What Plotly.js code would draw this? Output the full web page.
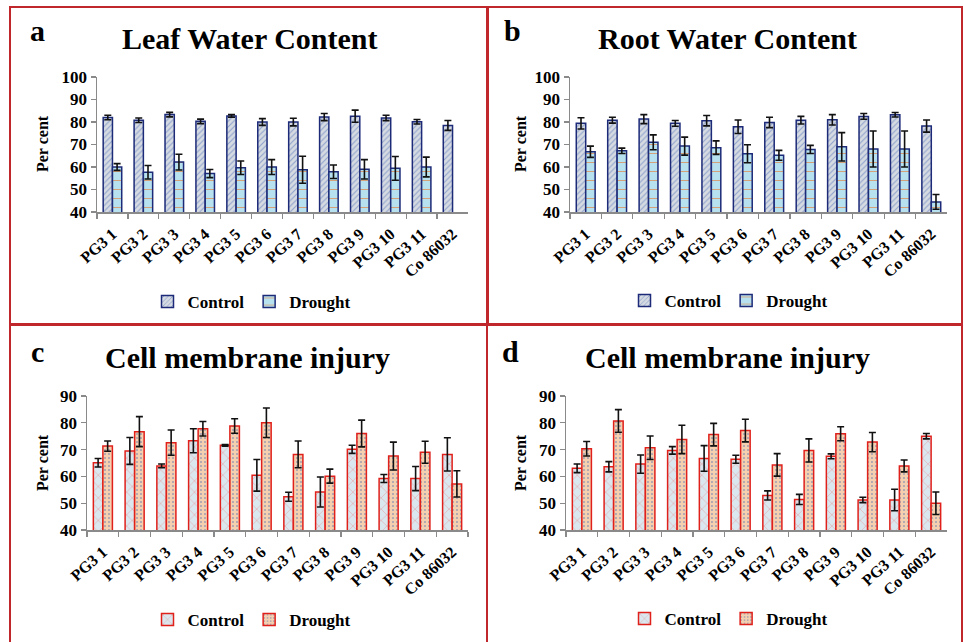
<!DOCTYPE html>
<html>
<head>
<meta charset="utf-8">
<script src="https://cdn.plot.ly/plotly-3.0.1.min.js"></script>
<style>
html,body{margin:0;padding:0;background:#fff;}
#chart{width:964px;height:642px;}
</style>
</head>
<body>
<div id="chart"></div>
<script>
const categories = ["PG3 1","PG3 2","PG3 3","PG3 4","PG3 5","PG3 6","PG3 7","PG3 8","PG3 9","PG3 10","PG3 11","Co 86032"];

// Panel a: Leaf Water Content
const leafControl    = [82.0, 80.8, 83.3, 80.3, 82.7, 80.0, 80.0, 82.2, 82.6, 81.8, 80.1, 78.5];
const leafControlErr = [1.0, 1.0, 1.0, 1.0, 0.6, 1.5, 1.7, 1.6, 2.7, 1.2, 1.0, 2.2];
const leafDrought    = [60.0, 57.7, 62.2, 57.1, 59.7, 60.0, 58.8, 57.9, 59.0, 59.4, 60.0, null];
const leafDroughtErr = [1.5, 3.0, 3.5, 1.8, 3.0, 3.3, 6.0, 3.0, 4.3, 5.3, 4.4, null];

// Panel b: Root Water Content
const rootControl    = [79.4, 80.8, 81.3, 79.4, 80.6, 77.9, 79.8, 80.8, 81.0, 82.5, 83.2, 78.2];
const rootControlErr = [2.5, 1.3, 2.0, 1.3, 2.3, 3.0, 2.3, 1.7, 2.3, 1.3, 1.0, 2.7];
const rootDrought    = [66.8, 67.2, 71.0, 69.3, 68.6, 65.9, 65.2, 67.8, 69.0, 68.0, 68.0, 44.5];
const rootDroughtErr = [2.5, 1.2, 3.3, 4.0, 3.0, 4.0, 2.2, 1.8, 6.3, 8.0, 8.0, 3.3];

// Panel c: Cell membrane injury
const cmiCControl    = [65.1, 69.5, 63.9, 73.3, 71.6, 60.4, 52.4, 54.2, 70.1, 59.2, 59.2, 68.2];
const cmiCControlErr = [1.6, 5.0, 0.7, 4.5, 0.3, 5.9, 1.7, 5.6, 1.5, 1.5, 4.5, 6.2];
const cmiCDrought    = [71.3, 76.7, 72.6, 77.8, 78.8, 80.0, 68.2, 60.1, 76.0, 67.6, 69.0, 57.2];
const cmiCDroughtErr = [1.9, 5.6, 4.7, 2.7, 2.7, 5.5, 5.0, 2.6, 5.0, 5.2, 4.1, 4.9];

// Panel d: Cell membrane injury
const cmiDControl    = [63.0, 63.6, 64.6, 69.7, 66.7, 66.4, 52.9, 51.4, 67.5, 51.2, 51.2, 75.0];
const cmiDControlErr = [1.6, 1.9, 3.4, 1.4, 4.8, 1.5, 1.7, 1.9, 0.9, 1.0, 4.0, 1.0];
const cmiDDrought    = [70.3, 80.7, 70.7, 73.8, 75.6, 77.1, 64.3, 69.7, 75.9, 72.8, 63.9, 50.0];
const cmiDDroughtErr = [2.7, 4.2, 4.4, 5.3, 4.2, 4.2, 4.2, 4.3, 2.6, 3.6, 2.2, 4.2];

const seriesNames = ["Control", "Drought"];
const panelTitles = ["Leaf Water Content", "Root Water Content", "Cell membrane injury", "Cell membrane injury"];
const panelLetters = ["a", "b", "c", "d"];
const yTitle = "Per cent";

const W = 964, H = 642;
const px = x => x / W;
const py = y => 1 - y / H;
const SERIF = "'Liberation Serif'";

const navy = "#1c2a78", red = "#e0201b";
const styleBlueCtrl = {color: "#d6dbe2", line: {color: navy, width: 1.5},
  pattern: {shape: "/", bgcolor: "#d6dbe2", fgcolor: "#8da0cc", size: 4, solidity: 0.25}};
const styleBlueDrt = {color: "#b7e1ef", line: {color: navy, width: 1.5},
  pattern: {shape: "-", bgcolor: "#b7e1ef", fgcolor: "#d79a6c", size: 9, solidity: 0.1}};
const styleRedCtrl = {color: "#dbe7ef", line: {color: red, width: 1.5},
  pattern: {shape: "x", bgcolor: "#dbe7ef", fgcolor: "#e48a8a", size: 8, solidity: 0.1}};
const styleRedDrt = {color: "#f5d0b0", line: {color: red, width: 1.5},
  pattern: {shape: ".", bgcolor: "#f5d0b0", fgcolor: "#5a74b0", size: 4, solidity: 0.12}};

function errObj(arr) {
  return {type: "data", array: arr, visible: true, color: "#111", thickness: 1.6, width: 3.5};
}

const panels = [
  {c: leafControl, ce: leafControlErr, d: leafDrought, de: leafDroughtErr, sc: styleBlueCtrl, sd: styleBlueDrt},
  {c: rootControl, ce: rootControlErr, d: rootDrought, de: rootDroughtErr, sc: styleBlueCtrl, sd: styleBlueDrt},
  {c: cmiCControl, ce: cmiCControlErr, d: cmiCDrought, de: cmiCDroughtErr, sc: styleRedCtrl, sd: styleRedDrt},
  {c: cmiDControl, ce: cmiDControlErr, d: cmiDDrought, de: cmiDDroughtErr, sc: styleRedCtrl, sd: styleRedDrt}
];

const data = [];
panels.forEach((p, i) => {
  const xa = i === 0 ? "x" : "x" + (i + 1);
  const ya = i === 0 ? "y" : "y" + (i + 1);
  const lg = i === 0 ? "legend" : "legend" + (i + 1);
  data.push({type: "bar", name: seriesNames[0], x: categories, y: p.c, error_y: errObj(p.ce),
    xaxis: xa, yaxis: ya, legend: lg, marker: p.sc, offsetgroup: "c" + i});
  data.push({type: "bar", name: seriesNames[1], x: categories, y: p.d, error_y: errObj(p.de),
    xaxis: xa, yaxis: ya, legend: lg, marker: p.sd, offsetgroup: "d" + i});
});

// Pixel layout of each panel
const geom = [
  {x0: 97, x1: 468, yTop: 77, yBot: 212, range: [40, 100], titleX: 250, titleY: 38, letX: 37, letY: 30, ytX: 42, ytY: 144, legX: 252, legY: 302},
  {x0: 570, x1: 947, yTop: 77, yBot: 212, range: [40, 100], titleX: 727, titleY: 38, letX: 512, letY: 30, ytX: 520, ytY: 144, legX: 729, legY: 301},
  {x0: 87, x1: 468, yTop: 396, yBot: 530, range: [40, 90], titleX: 248, titleY: 358, letX: 37, letY: 352, ytX: 42, ytY: 463, legX: 252, legY: 620},
  {x0: 566, x1: 947, yTop: 396, yBot: 530, range: [40, 90], titleX: 727, titleY: 358, letX: 510, letY: 352, ytX: 520, ytY: 463, legX: 729, legY: 619}
];

const layout = {
  width: W, height: H,
  margin: {l: 0, r: 0, t: 0, b: 0},
  paper_bgcolor: "#fff", plot_bgcolor: "#fff",
  barmode: "group", bargap: 0.4, bargroupgap: 0,
  showlegend: true,
  annotations: [], shapes: []
};

geom.forEach((g, i) => {
  const xk = i === 0 ? "xaxis" : "xaxis" + (i + 1);
  const yk = i === 0 ? "yaxis" : "yaxis" + (i + 1);
  const yid = i === 0 ? "y" : "y" + (i + 1);
  const xid = i === 0 ? "x" : "x" + (i + 1);
  layout[xk] = {
    domain: [px(g.x0), px(g.x1)], anchor: yid,
    showline: true, linecolor: "#8a8a8a", linewidth: 1.5,
    ticks: "outside", tickson: "boundaries", ticklen: 5, tickcolor: "#8a8a8a", tickwidth: 1.2,
    tickangle: -42, ticklabelstandoff: 5, showgrid: false, zeroline: false,
    tickfont: {family: SERIF, size: 16, weight: "bold", color: "#000"}
  };
  layout[yk] = {
    domain: [py(g.yBot), py(g.yTop)], anchor: xid,
    range: g.range, dtick: 10, showline: true, linecolor: "#8a8a8a", linewidth: 1.5,
    ticks: "outside", ticklen: 5, tickcolor: "#8a8a8a", tickwidth: 1.2,
    showgrid: false, zeroline: false,
    tickfont: {family: SERIF, size: 17, weight: "bold", color: "#000"}
  };
  const lk = i === 0 ? "legend" : "legend" + (i + 1);
  layout[lk] = {
    orientation: "h", x: px(g.legX), y: py(g.legY), xanchor: "center", yanchor: "middle",
    xref: "paper", yref: "paper", bgcolor: "rgba(0,0,0,0)",
    font: {family: SERIF, size: 17, weight: "bold", color: "#000"},
    itemwidth: 30, tracegroupgap: 0
  };
  layout.annotations.push({
    text: panelTitles[i], xref: "paper", yref: "paper", x: px(g.titleX), y: py(g.titleY),
    xanchor: "center", yanchor: "middle", showarrow: false,
    font: {family: SERIF, size: 30, weight: "bold", color: "#000"}
  });
  layout.annotations.push({
    text: panelLetters[i], xref: "paper", yref: "paper", x: px(g.letX), y: py(g.letY),
    xanchor: "center", yanchor: "middle", showarrow: false,
    font: {family: SERIF, size: 30, weight: "bold", color: "#000"}
  });
  layout.annotations.push({
    text: yTitle, xref: "paper", yref: "paper", x: px(g.ytX), y: py(g.ytY),
    xanchor: "center", yanchor: "middle", showarrow: false, textangle: -90,
    font: {family: SERIF, size: 16, weight: "bold", color: "#000"}
  });
});

const borderColor = "#c0272d";
const boxes = [[10, 7, 487, 324], [488, 7, 962, 324], [10, 325, 487, 648], [487, 325, 962, 648]];
boxes.forEach(b => {
  layout.shapes.push({type: "rect", xref: "paper", yref: "paper",
    x0: px(b[0]), x1: px(b[2]), y0: py(b[3]), y1: py(b[1]),
    line: {color: borderColor, width: 2}, fillcolor: "rgba(0,0,0,0)", layer: "above"});
});

Plotly.newPlot("chart", data, layout, {displayModeBar: false, staticPlot: true});
</script>
</body>
</html>
